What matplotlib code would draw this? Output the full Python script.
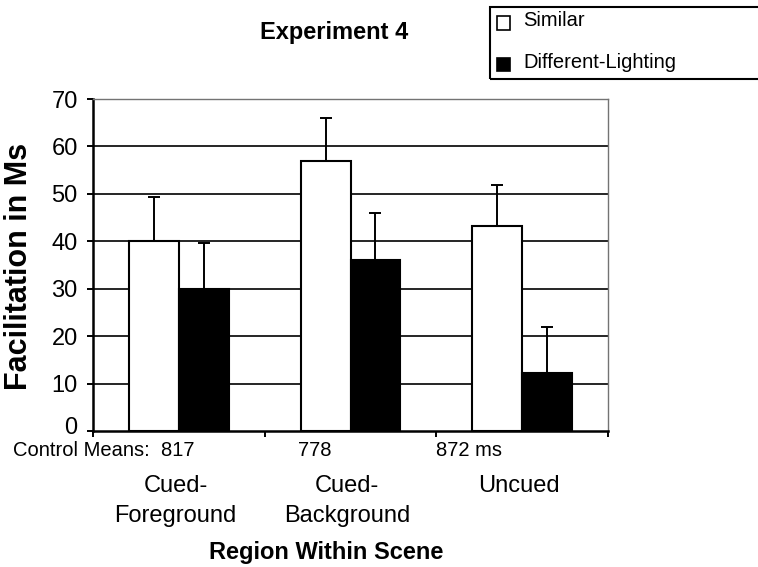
import matplotlib as mpl
import matplotlib.pyplot as plt
import matplotlib.transforms as mtransforms
import numpy as np
from matplotlib.patches import Rectangle

mpl.rcParams["font.family"] = ["Liberation Sans", "DejaVu Sans"]

# data
regions = ["Cued-\nForeground", "Cued-\nBackground", "Uncued"]
control_means = ["Control Means:  817", "778", "872 ms"]
series = ["Similar", "Different-Lighting"]
similar = [40.0, 57.0, 43.3]
different = [30.0, 36.0, 12.3]
similar_err = [9.3, 9.0, 8.5]
different_err = [9.7, 9.9, 9.7]
yticks = [0, 10, 20, 30, 40, 50, 60, 70]

W, H = 758, 567


def fx(px):
    return px / W


def fy(py):
    return 1 - py / H


fig = plt.figure(figsize=(W / 100, H / 100), dpi=100)
ax = fig.add_axes([fx(93), fy(431), fx(608) - fx(93), fy(99) - fy(431)])

x = np.arange(len(regions))
w = 0.29
ax.bar(x - w / 2, similar, w, color="white", edgecolor="black", linewidth=1.5, zorder=3)
ax.bar(x + w / 2, different, w, color="black", edgecolor="black", linewidth=1.5, zorder=3)
ax.errorbar(x - w / 2, similar, yerr=[np.zeros(3), similar_err], fmt="none",
            ecolor="black", elinewidth=1.4, capsize=4.3, capthick=1.4, zorder=2)
ax.errorbar(x + w / 2, different, yerr=[np.zeros(3), different_err], fmt="none",
            ecolor="black", elinewidth=1.4, capsize=4.3, capthick=1.4, zorder=2)

for yv in yticks[1:-1]:
    ax.axhline(yv, color="black", linewidth=1.2, zorder=1)

ax.set_xlim(-0.5, len(regions) - 0.5)
ax.set_ylim(0, 70)
ax.set_yticks(yticks)
ax.set_xticks(np.arange(len(regions) + 1) - 0.5)
ax.set_xticklabels([])
ax.tick_params(axis="y", labelsize=17, length=4, width=1.4, pad=7, direction="out")
ax.tick_params(axis="x", length=4.5, width=1.4, direction="out")
for s in ["left", "bottom"]:
    ax.spines[s].set_linewidth(1.8)
for s in ["top", "right"]:
    ax.spines[s].set_linewidth(1.0)
    ax.spines[s].set_color("0.45")

# the "0" label sits a little above its tick in the reference
zero_lab = ax.get_yticklabels()[0]
zero_lab.set_transform(zero_lab.get_transform()
                       + mtransforms.ScaledTranslation(0, 6 / 100, fig.dpi_scale_trans))

# category labels under each group
for xi, lab in zip(x, regions):
    ax.text(xi - 0.02, -0.133, lab, transform=ax.get_xaxis_transform(), ha="center",
            va="top", fontsize=17, linespacing=1.45)

# control means row
for px, lab in zip([13, 298, 436], control_means):
    fig.text(fx(px), fy(450), lab, ha="left", va="center", fontsize=14.5)

fig.text(fx(334), fy(32), "Experiment 4", ha="center", va="center", fontsize=17, fontweight="bold")
fig.text(fx(326), fy(552), "Region Within Scene", ha="center", va="center", fontsize=17,
         fontweight="bold")
fig.text(fx(19), fy(266), "Facilitation in Ms", ha="center", va="center", rotation=90,
         fontsize=22, fontweight="bold")

# legend box running off the right edge, as in the reference
fig.add_artist(Rectangle((fx(490), fy(79)), fx(300), fy(7) - fy(79), transform=fig.transFigure,
                         fill=False, edgecolor="black", linewidth=1.5))
for py, face, lab in zip([23, 64], ["white", "black"], series):
    fig.add_artist(Rectangle((fx(497), fy(py + 6.5)), fx(13), fy(py - 6.5) - fy(py + 6.5),
                             transform=fig.transFigure, facecolor=face, edgecolor="black",
                             linewidth=1.2))
    fig.text(fx(523), fy(py - 2), lab, ha="left", va="center", fontsize=14.5)

fig.savefig("out.png", dpi=100)
